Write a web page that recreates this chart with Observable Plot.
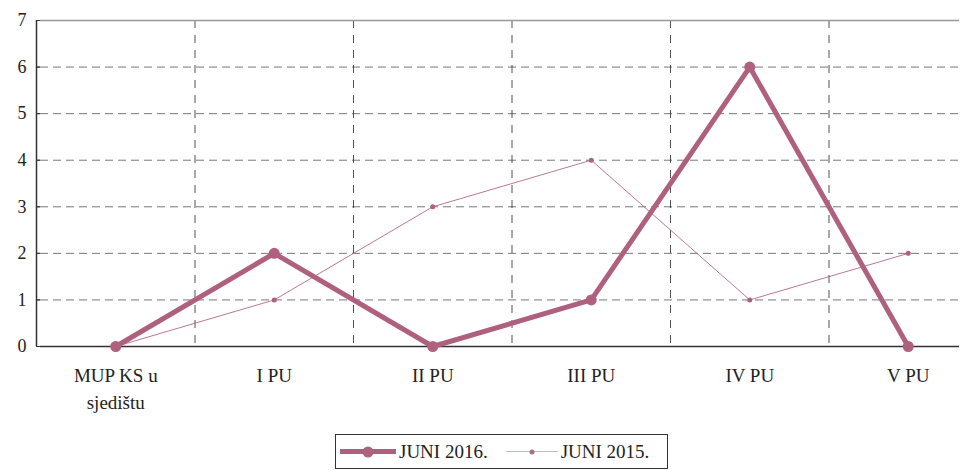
<!DOCTYPE html>
<html>
<head>
<meta charset="utf-8">
<script src="https://cdn.jsdelivr.net/npm/d3@7"></script>
<script src="https://cdn.jsdelivr.net/npm/@observablehq/plot@0.6"></script>
<style>
  body { margin: 0; background: #fff; }
  #wrap { position: relative; width: 979px; height: 470px; overflow: hidden; font-family: "Liberation Serif", "Times New Roman", serif; }
  #legend { position: absolute; left: 335px; top: 434px; width: 333px; height: 35px; border: 1.5px solid #333; box-sizing: border-box; display: flex; align-items: center; font-size: 19px; color: #222; }
  .item { display: flex; align-items: center; }
  .sw { position: relative; height: 10px; margin-right: 3px; }
  .sw .ln { position: absolute; left: 0; right: 0; top: 50%; }
  .sw .dt { position: absolute; left: 50%; top: 50%; border-radius: 50%; transform: translate(-50%, -50%); }
</style>
</head>
<body>
<div id="wrap">
  <div id="chart"></div>
  <div id="legend">
    <div class="item"><div class="sw" style="width:56px;margin-left:4px"><div class="ln" style="height:5px;margin-top:-2.5px;background:#b0607f"></div><div class="dt" style="width:11px;height:11px;background:#b0607f"></div></div>JUNI 2016.</div>
    <div class="item" style="margin-left:18px"><div class="sw" style="width:52px"><div class="ln" style="height:1px;margin-top:-0.5px;background:#b8b8e0"></div><div class="dt" style="width:5px;height:5px;background:#a07090"></div></div>JUNI 2015.</div>
  </div>
</div>
<script>
const categories = ["MUP KS u\nsjedištu", "I PU", "II PU", "III PU", "IV PU", "V PU"];
const juni2016 = [0, 2, 0, 1, 6, 0];
const juni2015 = [0, 1, 3, 4, 1, 2];
const yTicks = [0, 1, 2, 3, 4, 5, 6, 7];

const d16 = categories.map((c, i) => ({i: i + 0.5, v: juni2016[i]}));
const d15 = categories.map((c, i) => ({i: i + 0.5, v: juni2015[i]}));
const col = "#b0607f";

const chart = Plot.plot({
  width: 979,
  height: 432,
  marginTop: 20,
  marginBottom: 86,
  style: {fontFamily: "Liberation Serif, Times New Roman, serif", fontSize: "19px", color: "#222", background: "#fff"},
  x: {type: "linear", domain: [0, 6], range: [36, 987]},
  y: {domain: [0, 7]},
  marks: [
    Plot.gridY([1, 2, 3, 4, 5, 6], {stroke: "#555", strokeOpacity: 0.8, strokeDasharray: "8,5", strokeWidth: 1}),
    Plot.gridX([1, 2, 3, 4, 5], {stroke: "#333", strokeOpacity: 0.85, strokeDasharray: "8,7", strokeWidth: 1}),
    Plot.ruleY([7], {stroke: "#999", strokeWidth: 1.5}),
    Plot.ruleY([0], {stroke: "#333", strokeWidth: 1.5}),
    Plot.ruleX([0], {stroke: "#333", strokeWidth: 1.5}),
    Plot.axisY(yTicks, {tickSize: 4, tickPadding: 10, fontSize: 18, label: null, stroke: "#333"}),
    Plot.ruleY(yTicks, {x1: 0, x2: 0.025, stroke: "#333"}),
    Plot.axisX(categories.map((c, i) => i + 0.5), {tickSize: 0, tickPadding: 16, fontSize: 19, lineHeight: 1.42, label: null, tickFormat: (d) => categories[Math.round(d - 0.5)]}),
    Plot.line(d15, {x: "i", y: "v", stroke: col, strokeWidth: 1, strokeOpacity: 0.85}),
    Plot.dot(d15, {x: "i", y: "v", r: 2.5, fill: col, stroke: "none"}),
    Plot.line(d16, {x: "i", y: "v", stroke: col, strokeWidth: 5, strokeLinejoin: "round"}),
    Plot.dot(d16, {x: "i", y: "v", r: 5.5, fill: col, stroke: "none"})
  ]
});
document.getElementById("chart").appendChild(chart);
</script>
</body>
</html>
